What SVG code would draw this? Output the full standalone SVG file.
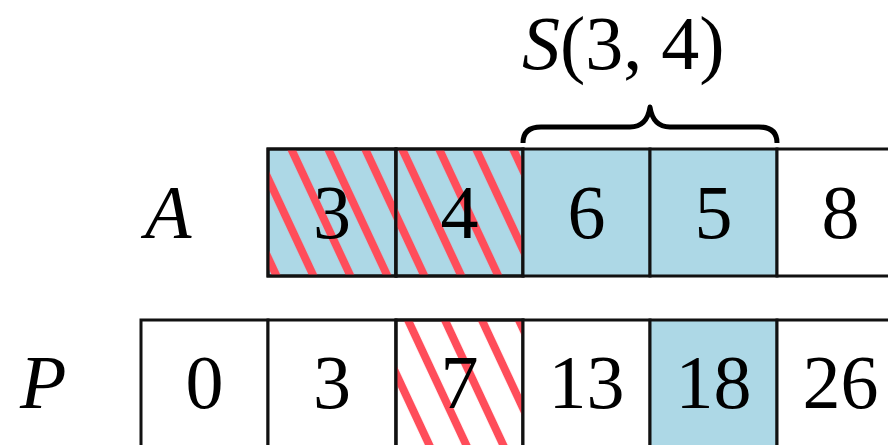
<svg xmlns="http://www.w3.org/2000/svg" width="888" height="445" viewBox="0 0 888 445">
<style>
.cell{stroke:#111;stroke-width:3}
.w{fill:#fff}
.b{fill:#add8e6}
.h{fill:url(#hatch)}
.num{text-anchor:middle;fill:#000}
</style>
<defs>
<pattern id="hatch" patternUnits="userSpaceOnUse" width="33.5" height="40" patternTransform="rotate(-25)">
<rect x="-4" y="0" width="8" height="40" fill="#ff4d5a"/>
<rect x="29.5" y="0" width="8" height="40" fill="#ff4d5a"/>
</pattern>
</defs>
<rect width="888" height="445" fill="#fff"/>
<text x="145" y="238" font-family="'Liberation Serif', serif" font-size="76" font-style="italic">A</text>
<text x="20" y="408" font-family="'Liberation Serif', serif" font-size="76" font-style="italic">P</text>
<g id="A0"><rect class="cell b" x="268" y="149" width="128" height="127"/><rect class="h" x="268" y="149" width="128" height="127"/><rect x="268" y="149" width="128" height="127" fill="none" class="cell"/><text class="num" x="332" y="238" font-family="'Liberation Serif', serif" font-size="76">3</text></g>
<g id="A1"><rect class="cell b" x="396" y="149" width="127" height="127"/><rect class="h" x="396" y="149" width="127" height="127"/><rect x="396" y="149" width="127" height="127" fill="none" class="cell"/><text class="num" x="459.5" y="238" font-family="'Liberation Serif', serif" font-size="76">4</text></g>
<g id="A2"><rect class="cell b" x="523" y="149" width="127" height="127"/><text class="num" x="586.5" y="238" font-family="'Liberation Serif', serif" font-size="76">6</text></g>
<g id="A3"><rect class="cell b" x="650" y="149" width="127" height="127"/><text class="num" x="713.5" y="238" font-family="'Liberation Serif', serif" font-size="76">5</text></g>
<g id="A4"><rect class="cell w" x="777" y="149" width="127" height="127"/><text class="num" x="840.5" y="238" font-family="'Liberation Serif', serif" font-size="76">8</text></g>
<g id="P0"><rect class="cell w" x="141" y="320" width="127" height="127"/><text class="num" x="204.5" y="408" font-family="'Liberation Serif', serif" font-size="76">0</text></g>
<g id="P1"><rect class="cell w" x="268" y="320" width="128" height="127"/><text class="num" x="332" y="408" font-family="'Liberation Serif', serif" font-size="76">3</text></g>
<g id="P2"><rect class="cell w" x="396" y="320" width="127" height="127"/><rect class="h" x="396" y="320" width="127" height="127"/><rect x="396" y="320" width="127" height="127" fill="none" class="cell"/><text class="num" x="459.5" y="408" font-family="'Liberation Serif', serif" font-size="76">7</text></g>
<g id="P3"><rect class="cell w" x="523" y="320" width="127" height="127"/><text class="num" x="586.5" y="408" font-family="'Liberation Serif', serif" font-size="76">13</text></g>
<g id="P4"><rect class="cell b" x="650" y="320" width="127" height="127"/><text class="num" x="713.5" y="408" font-family="'Liberation Serif', serif" font-size="76">18</text></g>
<g id="P5"><rect class="cell w" x="777" y="320" width="127" height="127"/><text class="num" x="840.5" y="408" font-family="'Liberation Serif', serif" font-size="76">26</text></g>
<g id="brace">
<path d="M523 143 Q523 127 541 127 L630 127 Q647 127 650 107 Q653 127 670 127 L759 127 Q777 127 777 143" fill="none" stroke="#000" stroke-width="5" stroke-linejoin="round"/>
<text x="522" y="69" font-family="'Liberation Serif', serif" font-size="76"><tspan font-style="italic">S</tspan>(3, 4)</text>
</g>
</svg>
